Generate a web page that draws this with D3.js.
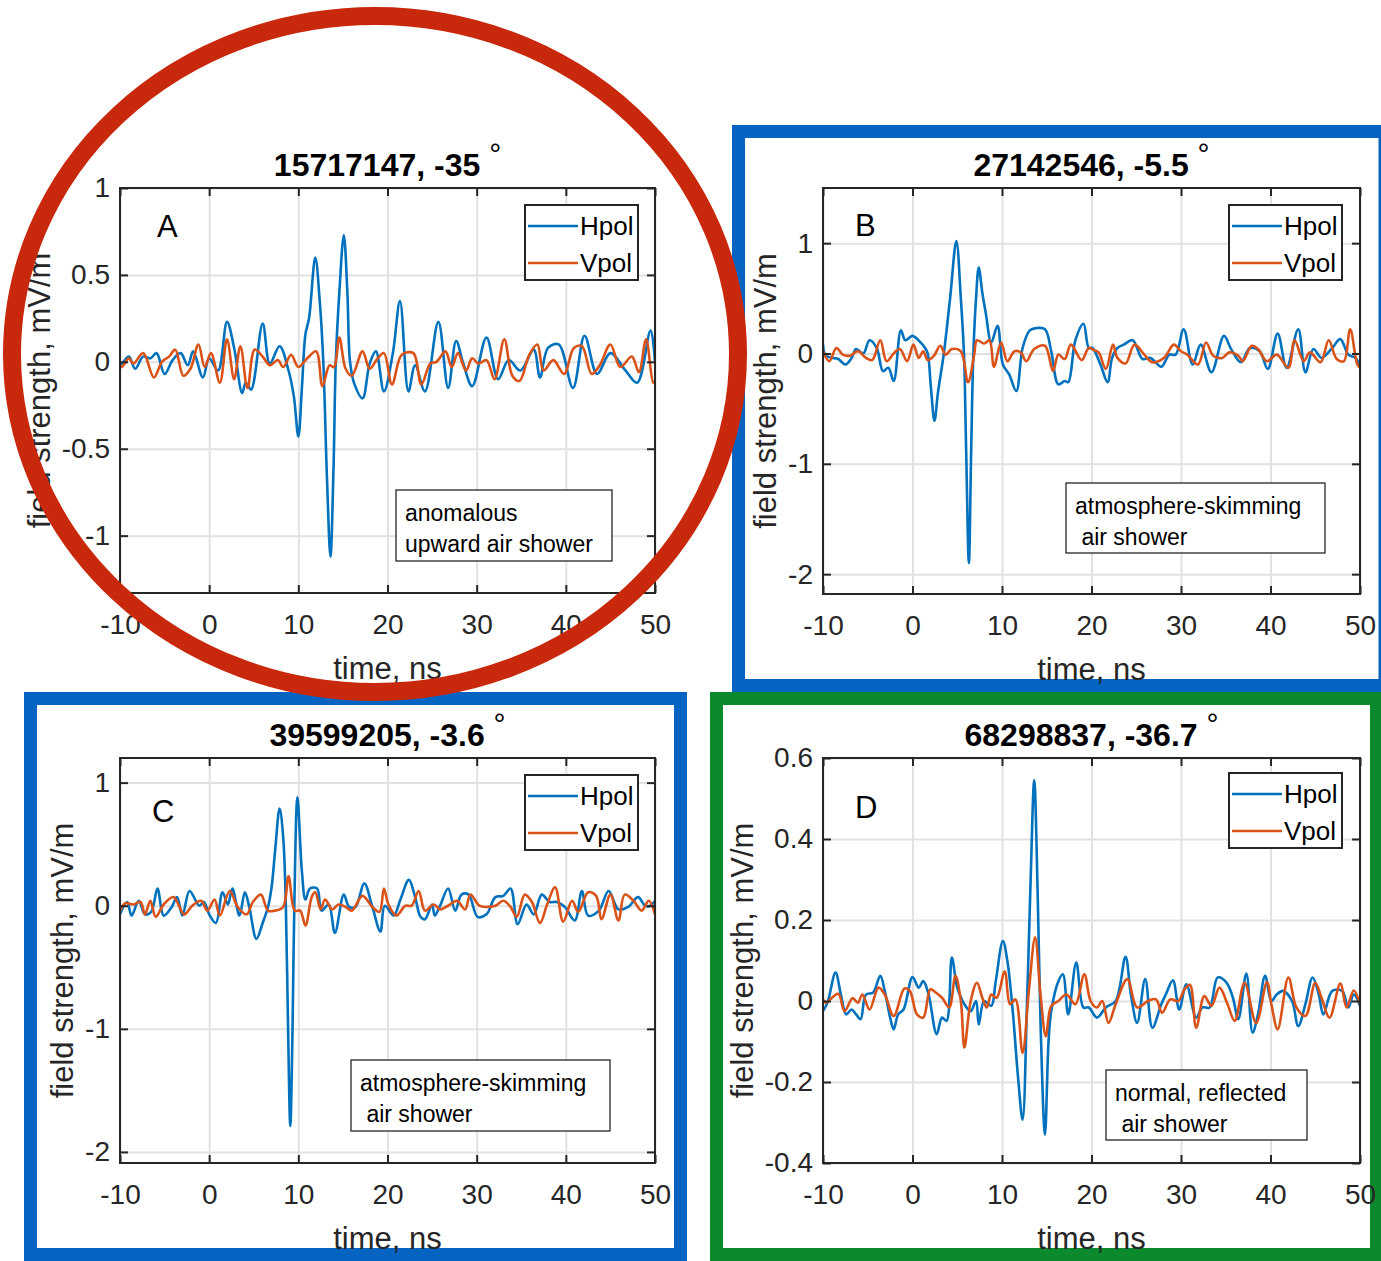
<!DOCTYPE html>
<html>
<head>
<meta charset="utf-8">
<script src="https://d3js.org/d3.v7.min.js"></script>
<style>
  body { margin: 0; background: #fff; }
  svg { display: block; font-family: "Liberation Sans", Arial, Helvetica, sans-serif; }
  .grid line { stroke: #e1e1e1; stroke-width: 2; }
  .grid .domain { display: none; }
  .ax .domain { display: none; }
  .ax line { stroke: #262626; stroke-width: 2; }
  .ax text { fill: #262626; font-size: 28px; font-family: "Liberation Sans", Arial, sans-serif; }
  .axlabel { fill: #262626; font-size: 31px; }
  .title { fill: #000; font-size: 32px; font-weight: bold; }
  .note { fill: #000; font-size: 23px; white-space: pre; }
  .legend text { fill: #000; font-size: 26px; }
</style>
</head>
<body>
<script>
// ---- data (time in ns, field strength in mV/m) ----
var xTicks = [-10, 0, 10, 20, 30, 40, 50];
var yTicksA = [-1, -0.5, 0, 0.5, 1];
var yTicksB = [-2, -1, 0, 1];
var yTicksC = [-2, -1, 0, 1];
var yTicksD = [-0.4, -0.2, 0, 0.2, 0.4, 0.6];

var titles = ["15717147, -35", "27142546, -5.5", "39599205, -3.6", "68298837, -36.7"];
var letters = ["A", "B", "C", "D"];
var notes = [["anomalous", "upward air shower"],
             ["atmosphere-skimming", " air shower"],
             ["atmosphere-skimming", " air shower"],
             ["normal, reflected", " air shower"]];
var seriesNames = ["Hpol", "Vpol"];

var hpolA = [[-10,-0.01],[-9.8,-0.01],[-9.0,0.03],[-8.3,-0.04],[-7.4,0.03],[-6.6,0.02],[-5.9,0.05],[-5.0,-0.07],[-4.1,0.01],[-3.2,0.05],[-2.4,-0.02],[-1.8,0.06],[-0.7,-0.09],[0.0,0.02],[1.0,-0.05],[2.0,0.23],[2.8,0.08],[3.7,-0.18],[4.1,-0.12],[4.7,-0.16],[6.0,0.22],[6.8,-0.01],[7.9,0.09],[8.9,-0.05],[9.5,-0.2],[10.0,-0.43],[10.4,-0.15],[10.8,0.16],[11.2,0.25],[11.9,0.60],[12.4,0.35],[12.8,0.0],[13.2,-0.65],[13.6,-1.12],[13.95,-0.6],[14.2,0.0],[14.6,0.4],[15.1,0.73],[15.5,0.4],[15.8,0.0],[16.3,-0.13],[17.2,-0.21],[18.0,-0.01],[18.7,0.06],[19.6,-0.17],[20.6,0.05],[21.4,0.35],[22.35,-0.17],[23.1,-0.02],[24.2,-0.17],[25.7,0.23],[26.8,-0.15],[27.7,0.12],[28.5,-0.01],[29.5,-0.14],[31.1,0.14],[32.4,-0.10],[33.6,0.01],[34.9,-0.05],[36.4,0.07],[37.1,-0.09],[38.0,0.08],[39.2,0.10],[40.8,-0.15],[42.1,0.15],[43.5,-0.07],[45.0,0.05],[46.7,-0.05],[48.0,-0.12],[49.5,0.18],[50.0,0.0]];
var vpolA = [[-10,-0.02],[-9.8,-0.03],[-9.0,0.02],[-8.5,-0.01],[-7.4,0.05],[-6.2,-0.09],[-5.3,0.0],[-4.5,0.03],[-3.8,0.07],[-2.9,-0.08],[-2.1,-0.04],[-1.2,0.10],[-0.5,-0.03],[0.2,0.05],[1.2,-0.12],[2.0,0.13],[2.8,-0.10],[3.5,0.09],[4.3,-0.15],[5.1,0.07],[6.0,0.03],[6.8,-0.02],[7.7,0.01],[8.3,-0.03],[9.2,0.04],[10.0,-0.03],[11.0,0.02],[12.0,0.06],[12.7,-0.14],[13.5,-0.02],[14.0,-0.03],[14.6,0.14],[15.3,-0.04],[16.0,-0.08],[17.2,0.06],[18.0,-0.04],[18.9,0.02],[19.6,0.05],[20.5,-0.13],[21.6,0.04],[22.9,0.05],[23.8,-0.13],[24.8,-0.01],[25.5,0.0],[26.5,0.06],[27.2,-0.03],[27.9,0.05],[28.8,-0.05],[29.5,0.02],[30.2,-0.01],[31.1,0.01],[32.0,-0.10],[33.1,0.13],[34.0,-0.08],[34.8,-0.11],[35.9,0.04],[36.8,0.10],[37.5,-0.05],[38.6,0.01],[39.8,-0.07],[40.9,0.08],[41.8,0.09],[42.9,-0.07],[43.8,-0.02],[45.0,0.10],[46.1,-0.03],[47.4,0.03],[48.2,-0.06],[49.0,0.13],[49.8,-0.12],[50.0,-0.11]];

var hpolB = [[-10,0.08],[-9.7,-0.02],[-8.9,-0.04],[-8.3,-0.05],[-7.5,-0.10],[-6.8,-0.04],[-6.3,0.04],[-5.5,0.0],[-4.8,0.12],[-4.0,0.05],[-3.3,-0.16],[-2.7,-0.13],[-2.1,-0.25],[-1.3,0.21],[-0.8,0.12],[0.0,0.16],[0.9,0.10],[1.4,0.05],[1.7,0.0],[2.05,-0.3],[2.45,-0.61],[2.85,-0.35],[3.5,0.0],[4.2,0.5],[4.9,1.02],[5.4,0.5],[5.75,0.0],[6.0,-0.9],[6.3,-1.9],[6.55,-0.9],[6.8,0.0],[7.1,0.5],[7.4,0.78],[7.8,0.55],[8.2,0.36],[8.8,0.10],[9.5,0.25],[10.1,-0.10],[10.8,-0.19],[11.6,-0.34],[12.3,0.05],[13.1,0.21],[13.8,0.23],[14.8,0.22],[15.5,0.02],[16.3,-0.28],[17.0,-0.25],[17.4,-0.26],[18.2,0.12],[19.1,0.27],[19.7,0.05],[20.1,0.05],[21.0,-0.10],[21.8,-0.26],[22.3,-0.04],[22.9,0.05],[23.6,0.08],[24.6,0.12],[25.7,-0.05],[26.6,-0.04],[27.8,-0.12],[28.7,-0.01],[29.4,-0.01],[30.3,0.22],[31.3,-0.10],[32.2,0.08],[33.4,-0.17],[34.8,0.16],[35.6,0.04],[36.7,-0.08],[37.7,0.05],[38.8,0.02],[39.7,-0.14],[40.8,0.18],[41.8,-0.13],[43.1,0.22],[43.9,-0.17],[44.8,0.04],[45.7,-0.04],[46.9,0.05],[47.8,0.13],[48.7,-0.01],[49.5,-0.04],[50.0,-0.11]];
var vpolB = [[-10,0.02],[-9.3,-0.07],[-8.5,0.05],[-7.8,-0.01],[-7.0,-0.02],[-6.1,0.02],[-5.2,-0.04],[-4.5,-0.06],[-3.6,0.12],[-2.9,-0.07],[-2.0,0.01],[-1.4,0.04],[-0.6,-0.07],[0.1,0.08],[0.7,-0.04],[1.2,0.02],[1.7,-0.06],[2.4,-0.02],[3.1,0.07],[3.7,-0.01],[4.4,0.04],[5.4,0.02],[6.2,-0.26],[6.9,-0.01],[7.2,0.12],[8.0,0.09],[8.6,0.12],[9.1,-0.12],[9.9,0.10],[10.6,-0.07],[11.4,0.02],[12.1,0.01],[12.7,-0.07],[13.6,0.04],[14.8,0.07],[15.7,-0.16],[16.3,-0.01],[17.0,-0.05],[17.7,0.08],[18.9,-0.06],[19.7,0.05],[20.3,0.03],[20.8,0.01],[21.6,-0.14],[22.4,0.08],[22.9,-0.04],[23.8,-0.09],[24.8,0.08],[25.9,-0.01],[26.8,-0.08],[28.1,-0.04],[29.2,0.08],[30.0,0.02],[30.7,-0.01],[31.9,-0.10],[32.8,0.10],[33.6,-0.02],[34.6,-0.04],[35.4,0.01],[36.4,-0.02],[36.9,-0.07],[37.9,0.07],[38.6,0.04],[39.6,-0.07],[40.7,-0.01],[42.0,-0.13],[42.7,0.12],[43.7,-0.07],[44.4,0.01],[45.6,-0.08],[46.5,0.12],[47.4,-0.05],[48.2,-0.07],[48.9,0.22],[49.7,-0.10],[50.0,-0.13]];

var hpolC = [[-10,-0.07],[-9.2,0.03],[-8.7,-0.08],[-7.9,0.04],[-7.2,-0.07],[-6.5,-0.05],[-5.8,0.14],[-5.1,-0.08],[-4.2,-0.01],[-3.6,0.07],[-3.0,-0.08],[-2.2,0.12],[-1.1,0.0],[-0.6,0.03],[0.0,-0.07],[0.75,-0.14],[1.5,0.11],[2.1,0.01],[2.6,0.14],[3.4,-0.08],[4.0,0.11],[4.5,-0.01],[5.3,-0.27],[6.0,-0.14],[6.6,-0.01],[7.0,0.15],[7.4,0.45],[7.9,0.79],[8.3,0.56],[8.6,0.0],[8.85,-1.0],[9.1,-1.79],[9.35,-1.0],[9.55,0.0],[9.9,0.88],[10.4,0.28],[10.8,0.05],[11.3,0.14],[12.1,0.14],[12.6,-0.04],[13.4,0.01],[14.1,-0.22],[15.1,0.09],[15.7,-0.01],[16.4,-0.01],[17.4,0.18],[18.3,-0.01],[19.2,-0.21],[19.7,0.0],[20.7,-0.08],[21.4,0.04],[22.4,0.21],[23.1,0.07],[23.7,-0.09],[24.2,-0.11],[25.0,0.01],[25.3,-0.08],[25.9,0.0],[26.8,0.14],[27.6,-0.04],[28.3,0.09],[29.1,0.09],[30.1,-0.09],[31.1,-0.07],[32.1,0.07],[33.0,0.08],[33.8,0.14],[34.6,-0.15],[35.6,0.01],[36.4,-0.07],[37.3,0.09],[38.2,0.03],[39.0,0.03],[39.9,-0.01],[41.0,-0.12],[41.8,0.12],[42.5,-0.08],[43.7,-0.04],[44.8,0.12],[45.9,-0.03],[47.0,-0.01],[48.1,0.07],[48.9,0.0],[49.5,0.0],[50.0,0.04]];
var vpolC = [[-10,-0.04],[-9.4,0.02],[-8.5,0.01],[-7.7,0.03],[-7.2,-0.07],[-6.6,0.04],[-6.0,-0.09],[-5.1,0.01],[-4.0,0.07],[-2.8,-0.07],[-1.9,0.0],[-0.9,0.04],[-0.2,-0.04],[0.6,0.05],[1.2,-0.08],[2.3,0.12],[3.2,-0.01],[4.2,-0.07],[4.9,0.03],[5.8,0.09],[6.6,-0.04],[7.4,-0.04],[8.3,-0.01],[8.9,0.24],[9.6,-0.04],[10.2,-0.04],[10.8,-0.16],[11.5,0.07],[11.9,0.11],[12.5,-0.03],[13.0,0.05],[13.8,-0.03],[14.5,0.01],[15.3,-0.01],[16.0,-0.04],[17.2,0.08],[18.3,-0.01],[19.1,-0.05],[19.6,0.14],[20.1,0.01],[21.0,-0.08],[22.0,0.0],[22.7,0.0],[23.5,0.12],[24.2,-0.04],[25.2,0.01],[25.9,-0.03],[26.8,0.0],[27.8,0.04],[28.7,-0.03],[29.3,0.09],[30.3,0.0],[31.1,-0.01],[32.1,0.0],[33.0,0.04],[33.8,-0.01],[34.5,-0.09],[35.4,0.09],[36.2,0.03],[37.1,-0.14],[37.9,0.01],[38.8,0.15],[39.7,-0.13],[40.7,0.04],[41.4,-0.05],[42.5,0.11],[43.4,0.08],[44.0,-0.11],[45.0,0.09],[45.9,-0.12],[46.6,0.09],[47.6,0.04],[48.5,-0.04],[49.3,0.04],[50.0,-0.07]];

var hpolD = [[-10,-0.025],[-9.5,-0.004],[-8.6,0.07],[-8.0,0.016],[-7.4,-0.033],[-6.8,-0.021],[-6.3,-0.033],[-5.8,-0.045],[-5.2,0.016],[-4.4,0.021],[-3.6,0.062],[-3.1,0.025],[-2.5,-0.041],[-2.1,-0.07],[-1.6,-0.033],[-1.0,-0.021],[0.0,0.059],[0.7,0.033],[1.2,0.049],[1.8,0.016],[2.7,-0.082],[3.3,-0.041],[3.8,-0.049],[4.4,0.107],[5.0,0.033],[5.8,-0.008],[6.5,-0.025],[7.1,0.0],[7.4,-0.058],[8.0,0.0],[8.8,-0.012],[9.3,0.049],[10.1,0.148],[10.6,0.099],[11.2,-0.025],[11.8,-0.19],[12.3,-0.293],[12.8,0.0],[13.2,0.3],[13.6,0.545],[14.0,0.25],[14.3,-0.05],[14.8,-0.33],[15.2,-0.1],[15.5,-0.025],[16.3,0.049],[16.8,0.066],[17.4,-0.033],[18.3,0.095],[19.1,-0.016],[19.7,-0.016],[20.6,-0.041],[21.6,-0.016],[22.7,0.0],[23.8,0.109],[24.4,0.016],[25.1,-0.054],[26.0,0.054],[26.8,-0.066],[27.8,-0.008],[28.3,0.016],[29.1,0.051],[29.8,-0.021],[30.6,0.041],[31.7,-0.041],[32.4,-0.016],[33.2,-0.016],[34.1,0.058],[35.1,0.045],[35.8,0.008],[36.4,-0.045],[37.3,0.068],[38.0,-0.078],[38.6,-0.033],[39.4,0.062],[40.1,0.0],[40.7,0.016],[41.4,0.025],[42.4,0.0],[43.1,-0.062],[43.9,-0.008],[44.7,0.058],[45.4,0.016],[45.9,-0.033],[46.9,0.025],[48.0,0.025],[48.7,-0.016],[49.3,0.016],[50.0,-0.012]];
var vpolD = [[-10,0.004],[-9.7,-0.004],[-8.3,0.018],[-7.6,-0.025],[-6.7,0.007],[-6.1,-0.004],[-5.6,0.016],[-4.8,-0.021],[-3.8,0.033],[-3.1,0.016],[-2.1,-0.037],[-0.9,0.031],[-0.3,0.025],[0.5,-0.033],[1.2,-0.041],[2.0,0.029],[2.6,0.021],[3.3,0.008],[4.1,-0.016],[4.8,0.062],[5.4,0.0],[5.8,-0.115],[6.5,0.0],[7.2,0.045],[7.8,0.008],[8.3,-0.016],[8.8,0.016],[9.4,0.008],[10.3,0.073],[10.9,-0.008],[11.5,0.004],[12.3,-0.128],[13.0,0.025],[13.7,0.157],[14.3,0.016],[14.9,-0.087],[15.5,-0.012],[16.3,0.0],[17.2,0.016],[18.2,-0.008],[19.2,0.066],[19.9,0.0],[20.6,-0.016],[21.2,0.0],[21.9,-0.054],[22.7,-0.008],[24.0,0.054],[25.1,-0.016],[26.3,0.0],[27.2,0.004],[27.9,-0.029],[28.8,0.004],[29.7,0.0],[30.4,0.029],[31.0,0.04],[31.7,-0.066],[32.6,0.012],[33.4,-0.012],[34.3,0.033],[35.2,-0.008],[36.0,-0.049],[37.1,0.045],[38.4,-0.054],[39.6,0.047],[40.1,-0.008],[40.8,-0.07],[42.0,0.058],[42.9,-0.016],[43.9,-0.037],[45.0,0.045],[45.7,0.008],[46.6,-0.041],[47.8,0.043],[48.5,-0.016],[49.3,0.026],[50.0,-0.008]];

// ---- layout ----
var W = 1381, H = 1261;
var colors = { Hpol: "#0072BD", Vpol: "#D95319" };

var panels = [
  { box: [120, 188, 655, 593], yDomain: [-1.33, 1], yTicks: yTicksA, series: [hpolA, vpolA],
    letterAt: [37, 49], noteBox: [396, 490, 216, 71], legendAt: [525, 205] },
  { box: [823, 188, 1360, 594], yDomain: [-2.18, 1.5], yTicks: yTicksB, series: [hpolB, vpolB],
    letterAt: [32, 48], noteBox: [1066, 483, 259, 70], legendAt: [1229, 205] },
  { box: [120, 758, 655, 1163], yDomain: [-2.09, 1.2], yTicks: yTicksC, series: [hpolC, vpolC],
    letterAt: [32, 64], noteBox: [351, 1060, 259, 71], legendAt: [525, 775] },
  { box: [823, 758, 1360, 1163], yDomain: [-0.4, 0.6], yTicks: yTicksD, series: [hpolD, vpolD],
    letterAt: [32, 60], noteBox: [1106, 1070, 201, 70], legendAt: [1229, 773] }
];

var svg = d3.select("body").append("svg")
    .attr("width", W)
    .attr("height", H);

// coloured frames behind the panels
svg.append("rect").attr("x", 738.5).attr("y", 131.5).attr("width", 646.5).attr("height", 554)
  .attr("fill", "none").attr("stroke", "#0563C1").attr("stroke-width", 13);
svg.append("rect").attr("x", 30.5).attr("y", 698.5).attr("width", 650).attr("height", 556)
  .attr("fill", "none").attr("stroke", "#0563C1").attr("stroke-width", 13);
svg.append("rect").attr("x", 716.5).attr("y", 698.5).attr("width", 660).attr("height", 556)
  .attr("fill", "none").attr("stroke", "#0A8A2C").attr("stroke-width", 13);

panels.forEach(function(p, i) {
  var L = p.box[0], T = p.box[1], R = p.box[2], B = p.box[3];
  var x = d3.scaleLinear().domain([-10, 50]).range([L, R]);
  var y = d3.scaleLinear().domain(p.yDomain).range([B, T]);
  var g = svg.append("g");

  g.append("rect").attr("x", L).attr("y", T).attr("width", R - L).attr("height", B - T).attr("fill", "#fff");

  // grid
  g.append("g").attr("class", "grid").attr("transform", "translate(0," + B + ")")
    .call(d3.axisBottom(x).tickValues(xTicks).tickSize(-(B - T)).tickFormat(""));
  g.append("g").attr("class", "grid").attr("transform", "translate(" + L + ",0)")
    .call(d3.axisLeft(y).tickValues(p.yTicks).tickSize(-(R - L)).tickFormat(""));

  // traces
  var clipId = "clip" + i;
  g.append("clipPath").attr("id", clipId).append("rect")
    .attr("x", L).attr("y", T).attr("width", R - L).attr("height", B - T);
  var line = d3.line()
    .x(function(d) { return x(d[0]); })
    .y(function(d) { return y(d[1]); })
    .curve(d3.curveCatmullRom.alpha(0.5));
  p.series.forEach(function(s, k) {
    g.append("path").datum(s)
      .attr("clip-path", "url(#" + clipId + ")")
      .attr("fill", "none")
      .attr("stroke", colors[seriesNames[k]])
      .attr("stroke-width", 2.6)
      .attr("stroke-linejoin", "round")
      .attr("d", line);
  });

  // axes with inward ticks on all four sides
  g.append("g").attr("class", "ax").attr("transform", "translate(0," + B + ")")
    .call(d3.axisBottom(x).tickValues(xTicks).tickSizeInner(-8).tickSizeOuter(0).tickPadding(21)
      .tickFormat(function(d) { return String(d); }));
  g.append("g").attr("class", "ax").attr("transform", "translate(0," + T + ")")
    .call(d3.axisTop(x).tickValues(xTicks).tickSizeInner(-8).tickSizeOuter(0).tickFormat(""));
  var yAx = g.append("g").attr("class", "ax").attr("transform", "translate(" + L + ",0)")
    .call(d3.axisLeft(y).tickValues(p.yTicks).tickSizeInner(-8).tickSizeOuter(0).tickPadding(10)
      .tickFormat(function(d) { return String(d); }));
  g.append("g").attr("class", "ax").attr("transform", "translate(" + R + ",0)")
    .call(d3.axisRight(y).tickValues(p.yTicks).tickSizeInner(-8).tickSizeOuter(0).tickFormat(""));

  g.append("rect").attr("x", L).attr("y", T).attr("width", R - L).attr("height", B - T)
    .attr("fill", "none").attr("stroke", "#262626").attr("stroke-width", 2);

  // axis labels
  var maxW = 0;
  yAx.selectAll("text").each(function() { maxW = Math.max(maxW, this.getBBox().width); });
  g.append("text").attr("class", "axlabel")
    .attr("transform", "translate(" + (L - 10 - maxW - 12) + "," + ((T + B) / 2) + ") rotate(-90)")
    .attr("text-anchor", "middle")
    .text("field strength, mV/m");
  g.append("text").attr("class", "axlabel")
    .attr("x", (L + R) / 2).attr("y", B + 86)
    .attr("text-anchor", "middle")
    .text("time, ns");

  // title with degree sign
  var t = g.append("text").attr("class", "title")
    .attr("x", (L + R) / 2).attr("y", T - 12).attr("text-anchor", "middle");
  t.append("tspan").text(titles[i] + "  ");
  t.append("tspan").attr("font-size", 30).attr("font-weight", "normal").attr("dy", -12).text("°");

  // panel letter
  g.append("text").attr("x", L + p.letterAt[0]).attr("y", T + p.letterAt[1])
    .attr("font-size", 31).attr("fill", "#000").text(letters[i]);

  // annotation box
  var nb = p.noteBox;
  g.append("rect").attr("x", nb[0]).attr("y", nb[1]).attr("width", nb[2]).attr("height", nb[3])
    .attr("fill", "#fff").attr("stroke", "#262626").attr("stroke-width", 1.3);
  notes[i].forEach(function(s, j) {
    g.append("text").attr("class", "note")
      .attr("x", nb[0] + 9).attr("y", nb[1] + 31 + j * 31).text(s);
  });

  // legend
  var lg = g.append("g").attr("class", "legend")
    .attr("transform", "translate(" + p.legendAt[0] + "," + p.legendAt[1] + ")");
  lg.append("rect").attr("width", 113).attr("height", 75)
    .attr("fill", "#fff").attr("stroke", "#262626").attr("stroke-width", 2);
  seriesNames.forEach(function(name, k) {
    var yy = 21 + k * 37;
    lg.append("line").attr("x1", 3).attr("x2", 53).attr("y1", yy).attr("y2", yy)
      .attr("stroke", colors[name]).attr("stroke-width", 2.6);
    lg.append("text").attr("x", 55).attr("y", yy + 9).text(name);
  });
});

// red ellipse round panel A, drawn on top
svg.append("ellipse").attr("cx", 375).attr("cy", 354).attr("rx", 363).attr("ry", 338)
  .attr("fill", "none").attr("stroke", "#C8290C").attr("stroke-width", 18);
</script>
</body>
</html>
